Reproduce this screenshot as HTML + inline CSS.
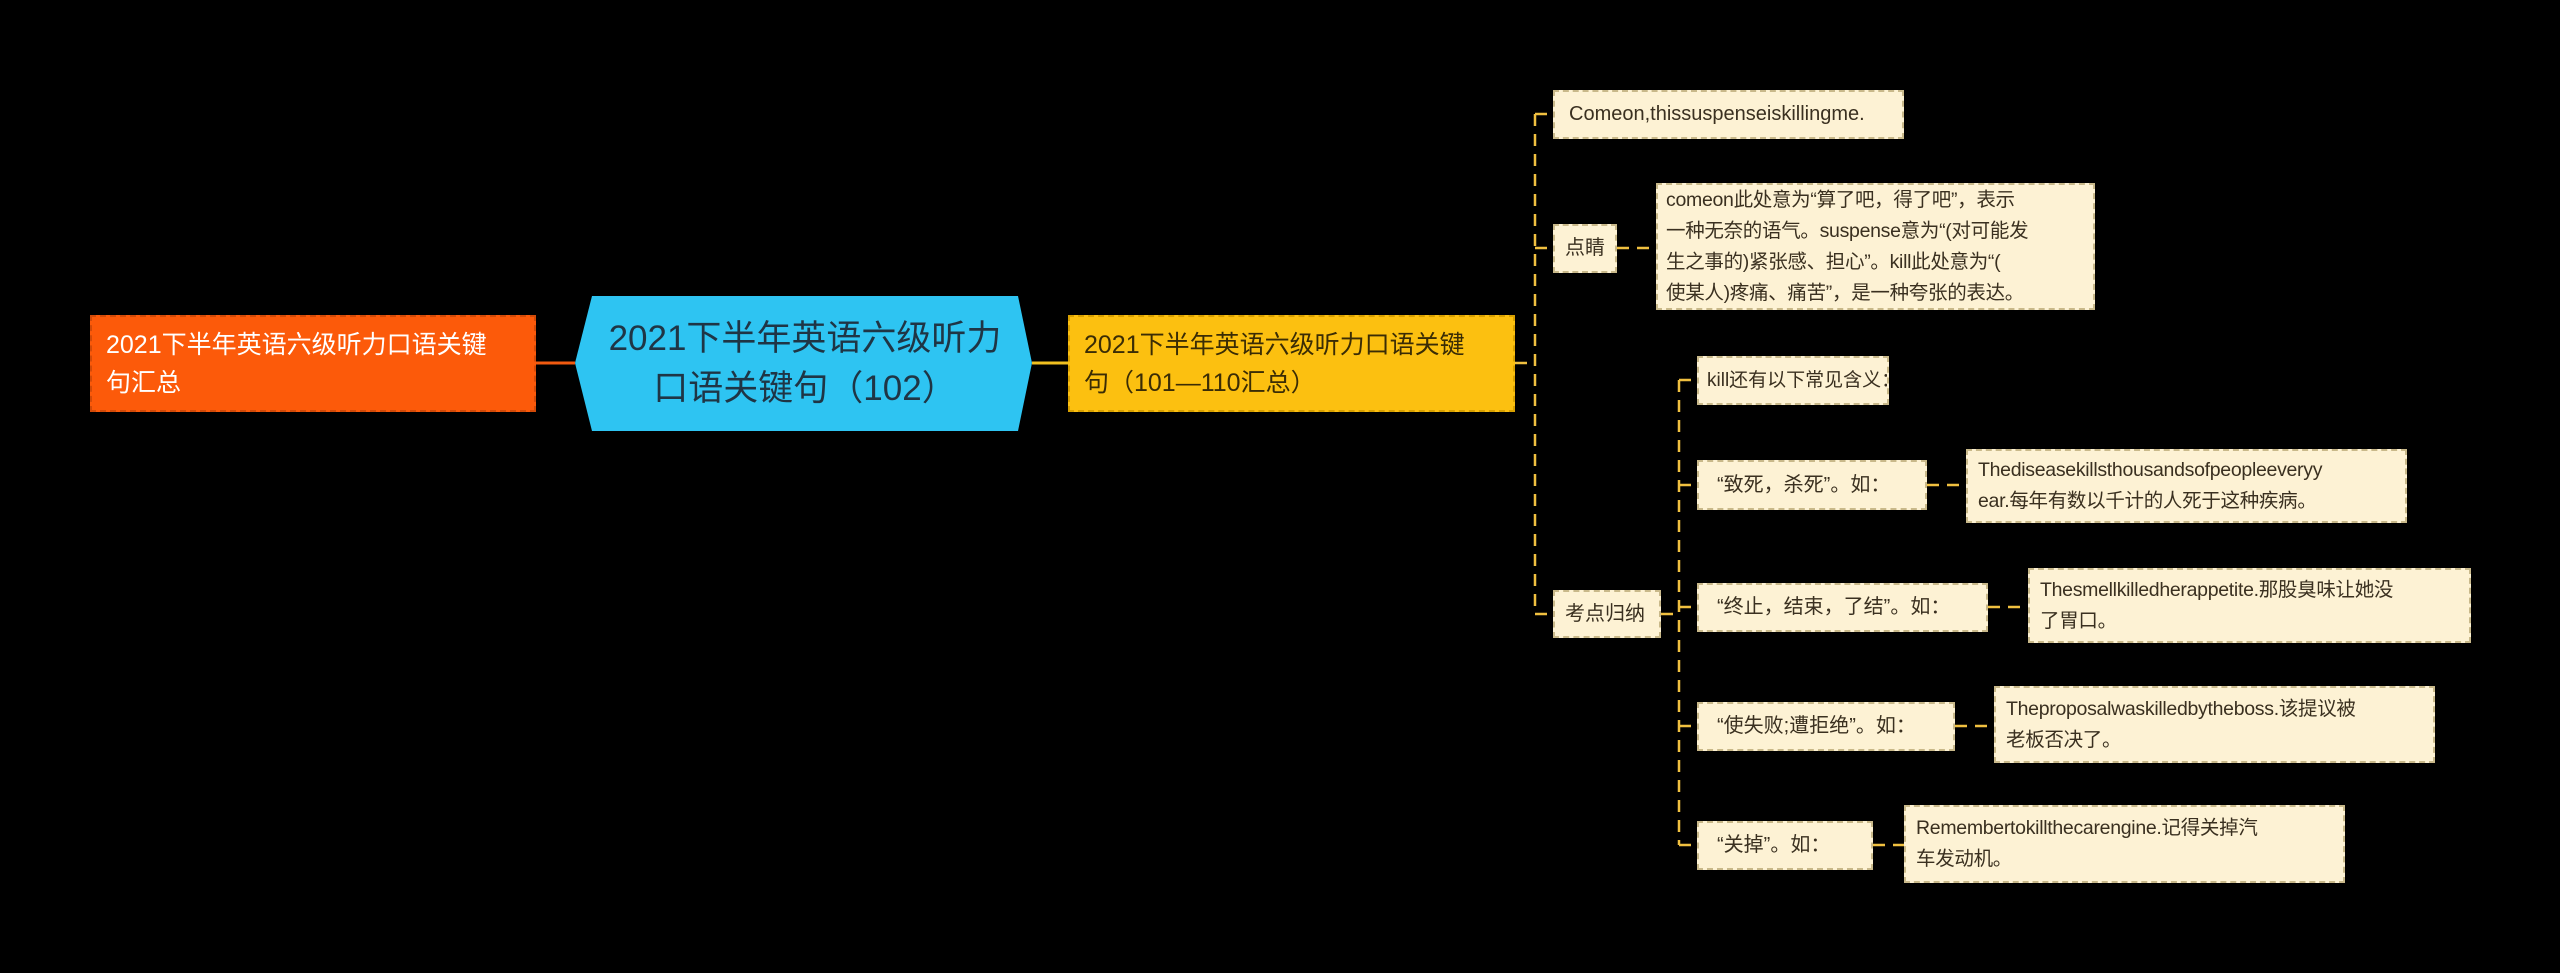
<!DOCTYPE html>
<html><head><meta charset="utf-8"><style>
body{margin:0;width:2560px;height:973px;background:#000;overflow:hidden;position:relative;font-family:"Liberation Sans","Noto Sans CJK SC",sans-serif}
.b{position:absolute;box-sizing:border-box;display:flex;align-items:center;padding:0 14px;background:#fdf2d4;color:#3a3020;font-size:20px;line-height:31px;border:2px dashed #c9b98a;white-space:nowrap;overflow:hidden}
.n{font-size:19.5px;letter-spacing:-0.3px}
svg{position:absolute;left:0;top:0}
</style></head><body>
<svg width="2560" height="973">
<g stroke="#f0c040" stroke-width="2.5" fill="none" stroke-dasharray="12,8">
<line x1="1515" y1="363" x2="1535" y2="363"/>
<line x1="1535" y1="114" x2="1535" y2="614"/>
<line x1="1535" y1="114" x2="1553" y2="114"/>
<line x1="1535" y1="248" x2="1553" y2="248"/>
<line x1="1535" y1="614" x2="1553" y2="614"/>
<line x1="1617" y1="248" x2="1656" y2="248"/>
<line x1="1661" y1="614" x2="1679" y2="614"/>
<line x1="1679" y1="380" x2="1679" y2="845"/>
<line x1="1679" y1="380" x2="1697" y2="380"/>
<line x1="1679" y1="485" x2="1697" y2="485"/>
<line x1="1679" y1="607" x2="1697" y2="607"/>
<line x1="1679" y1="726" x2="1697" y2="726"/>
<line x1="1679" y1="845" x2="1697" y2="845"/>
<line x1="1927" y1="485" x2="1966" y2="485"/>
<line x1="1988" y1="607" x2="2028" y2="607"/>
<line x1="1955" y1="726" x2="1994" y2="726"/>
<line x1="1873" y1="845" x2="1904" y2="845"/>
</g>
<line x1="536" y1="363" x2="575" y2="363" stroke="#f05a10" stroke-width="3"/>
<line x1="1032" y1="363" x2="1068" y2="363" stroke="#f0c020" stroke-width="3"/>
<polygon points="592,296 1018,296 1032,363 1018,431 592,431 575,363" fill="#2ec4f2"/>
</svg>
<div class="b" style="left:90px;top:315px;width:446px;height:97px;background:#fc5a0a;color:#fff;font-size:25px;line-height:38px;border-color:#d24a08">2021下半年英语六级听力口语关键<br>句汇总</div>
<div style="position:absolute;left:592px;top:296px;width:426px;height:135px;display:flex;align-items:center;justify-content:center;text-align:center;color:#1f3545;font-size:35px;line-height:50px">2021下半年英语六级听力<br>口语关键句（102）</div>
<div class="b" style="left:1068px;top:315px;width:447px;height:97px;background:#fcc010;color:#3a2c05;font-size:25px;line-height:38px;border-color:#d8a000">2021下半年英语六级听力口语关键<br>句（101—110汇总）</div>
<div class="b" style="left:1553px;top:90px;width:351px;height:49px">Comeon,thissuspenseiskillingme.</div>
<div class="b" style="left:1553px;top:224px;width:64px;height:49px;padding:0 10px">点睛</div>
<div class="b n" style="left:1656px;top:183px;width:439px;height:127px;padding:0 8px">comeon此处意为“算了吧，得了吧”，表示<br>一种无奈的语气。suspense意为“(对可能发<br>生之事的)紧张感、担心”。kill此处意为“(<br>使某人)疼痛、痛苦”，是一种夸张的表达。</div>
<div class="b" style="left:1553px;top:590px;width:108px;height:48px;padding:0 10px">考点归纳</div>
<div class="b" style="left:1697px;top:356px;width:192px;height:49px;padding:0 8px;font-size:19px">kill还有以下常见含义：</div>
<div class="b" style="left:1697px;top:460px;width:230px;height:50px;padding:0 18px">“致死，杀死”。如：</div>
<div class="b n" style="left:1966px;top:449px;width:441px;height:74px;padding:0 10px">Thediseasekillsthousandsofpeopleeveryy<br>ear.每年有数以千计的人死于这种疾病。</div>
<div class="b" style="left:1697px;top:583px;width:291px;height:49px;padding:0 18px">“终止，结束，了结”。如：</div>
<div class="b n" style="left:2028px;top:568px;width:443px;height:75px;padding:0 10px">Thesmellkilledherappetite.那股臭味让她没<br>了胃口。</div>
<div class="b" style="left:1697px;top:702px;width:258px;height:49px;padding:0 18px">“使失败;遭拒绝”。如：</div>
<div class="b n" style="left:1994px;top:686px;width:441px;height:77px;padding:0 10px">Theproposalwaskilledbytheboss.该提议被<br>老板否决了。</div>
<div class="b" style="left:1697px;top:821px;width:176px;height:49px;padding:0 18px">“关掉”。如：</div>
<div class="b n" style="left:1904px;top:805px;width:441px;height:78px;padding:0 10px">Remembertokillthecarengine.记得关掉汽<br>车发动机。</div>
</body></html>
